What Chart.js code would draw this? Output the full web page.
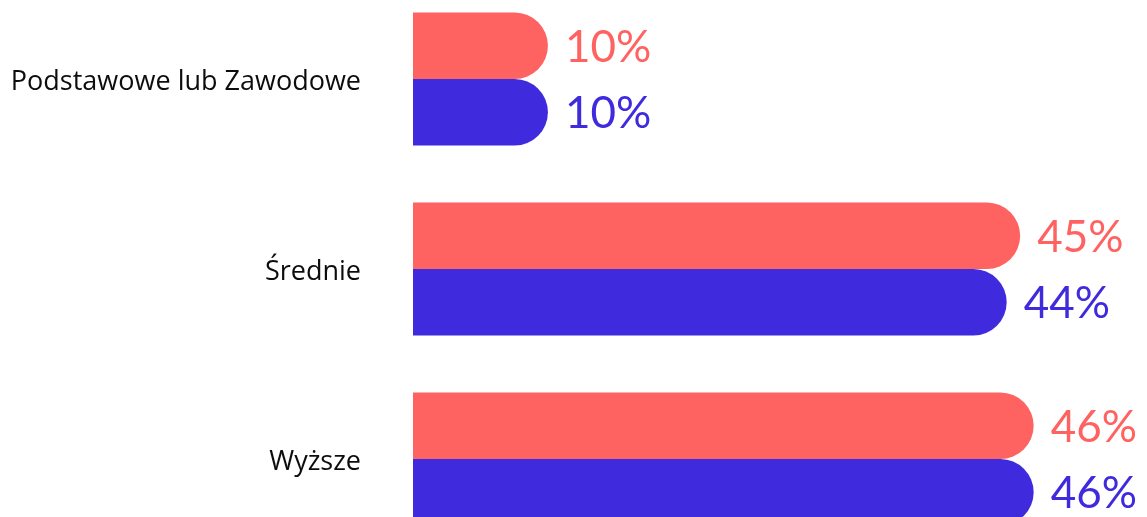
<!DOCTYPE html>
<html>
<head>
<meta charset="utf-8">
<script src="https://cdn.jsdelivr.net/npm/chart.js@4"></script>
<style>
  html, body { margin: 0; padding: 0; background: #fff; overflow: hidden; }
  #wrap { position: absolute; left: 0; top: -16px; width: 1147px; height: 570px; }
</style>
</head>
<body>
<div id="wrap"><canvas id="myChart"></canvas></div>
<script>
let categories = ["Podstawowe lub Zawodowe", "Średnie", "Wyższe"];
let seriesA = [10, 45, 46];
let seriesB = [10, 44, 46];
let colorA = "#ff6361";
let colorB = "#3f2bdd";

let ctx = document.getElementById("myChart");

// draws the "45%" style labels at the end of each bar
let valueLabels = {
  id: "valueLabels",
  afterDatasetsDraw: (chart) => {
    let c = chart.ctx;
    c.save();
    c.font = "44px Lato";
    c.textBaseline = "middle";
    c.textAlign = "left";
    chart.data.datasets.forEach((dataset, i) => {
      let meta = chart.getDatasetMeta(i);
      c.fillStyle = dataset.backgroundColor;
      meta.data.forEach((bar, j) => {
        c.fillText(dataset.data[j] + "%", bar.x + 17, bar.y + 2);
      });
    });
    c.restore();
  }
};

let myChart = new Chart(ctx, {
  type: "bar",
  data: {
    labels: categories,
    datasets: [
      { label: "A", data: seriesA, backgroundColor: colorA, borderRadius: 40, borderSkipped: "start" },
      { label: "B", data: seriesB, backgroundColor: colorB, borderRadius: 40, borderSkipped: "start" }
    ]
  },
  options: {
    indexAxis: "y",
    responsive: true,
    maintainAspectRatio: false,
    animation: false,
    layout: { padding: 0 },
    datasets: { bar: { categoryPercentage: 0.7, barPercentage: 1 } },
    plugins: { legend: { display: false }, tooltip: { enabled: false } },
    scales: {
      x: { display: false, min: 0, max: 54.4 },
      y: {
        grid: { display: false },
        border: { display: false },
        ticks: { color: "#0d0d0d", font: { family: "Open Sans", size: 27, weight: 500 }, padding: 44, labelOffset: 3 },
        afterFit: (scale) => {
          scale.width = 413;
          scale.paddingTop = 0;
          scale.paddingBottom = 0;
        }
      }
    }
  },
  plugins: [valueLabels]
});
</script>
</body>
</html>
